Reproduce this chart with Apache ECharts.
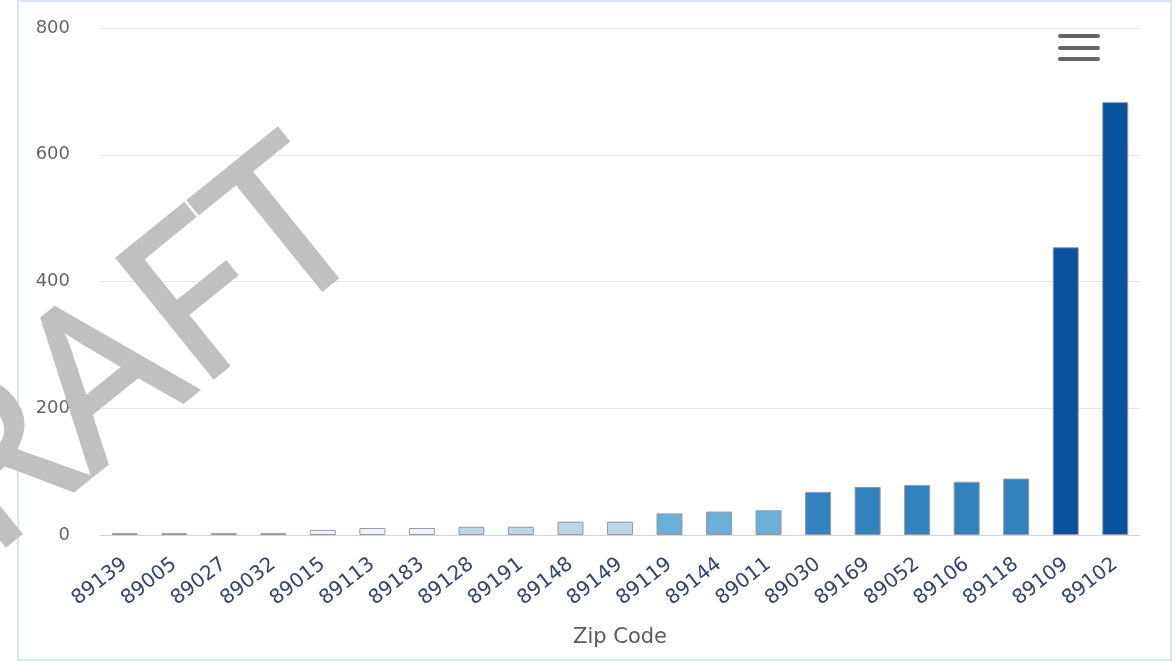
<!DOCTYPE html>
<html>
<head>
<meta charset="utf-8">
<script src="https://cdn.jsdelivr.net/npm/echarts@6/dist/echarts.min.js"></script>
<style>
  html, body { margin: 0; padding: 0; background: #ffffff; }
  #chart { width: 1176px; height: 662px; }
</style>
</head>
<body>
<div id="chart"></div>
<script>
const zipCodes = ['89139','89005','89027','89032','89015','89113','89183','89128','89191','89148','89149','89119','89144','89011','89030','89169','89052','89106','89118','89109','89102'];
const counts = [3, 3, 3, 3, 8, 11, 11, 13, 13, 21, 21, 34, 37, 39, 68, 76, 79, 84, 89, 454, 683];
const yTicks = [0, 200, 400, 600, 800];
const palette = ['#eff3ff', '#bdd7e7', '#6baed6', '#3182bd', '#08519c'];
const classBreaks = [12, 30, 50, 200];

const chart = echarts.init(document.getElementById('chart'), null, { renderer: 'canvas' });

const pieces = [
  { lt: classBreaks[0], color: palette[0] },
  { gte: classBreaks[0], lt: classBreaks[1], color: palette[1] },
  { gte: classBreaks[1], lt: classBreaks[2], color: palette[2] },
  { gte: classBreaks[2], lt: classBreaks[3], color: palette[3] },
  { gte: classBreaks[3], color: palette[4] }
];

chart.setOption({
  animation: false,
  backgroundColor: '#ffffff',
  grid: { left: 100, right: 36, top: 28, bottom: 127, containLabel: false },
  visualMap: { type: 'piecewise', show: false, dimension: 1, pieces: pieces, seriesIndex: 0 },
  xAxis: {
    type: 'category',
    data: zipCodes,
    boundaryGap: true,
    name: 'Zip Code',
    nameLocation: 'middle',
    nameGap: 92,
    nameTextStyle: { color: '#5a5a5a', fontSize: 21, fontFamily: 'DejaVu Sans' },
    axisLine: { show: true, lineStyle: { color: '#ccd6eb', width: 1 } },
    axisTick: { show: false },
    axisLabel: {
      rotate: 38,
      interval: 0,
      margin: 27,
      color: '#33456a',
      fontSize: 20,
      fontFamily: 'DejaVu Sans'
    },
    splitLine: { show: false }
  },
  yAxis: {
    type: 'value',
    min: yTicks[0],
    max: yTicks[yTicks.length - 1],
    interval: yTicks[1] - yTicks[0],
    axisLine: { show: false },
    axisTick: { show: false },
    axisLabel: { color: '#666666', fontSize: 18, fontFamily: 'DejaVu Sans', margin: 30 },
    splitLine: { show: true, lineStyle: { color: '#e6e6e6', width: 1 } }
  },
  series: [{
    type: 'bar',
    data: counts,
    barWidth: 26,
    itemStyle: { borderColor: '#9a9a9a', borderWidth: 1 }
  }],
  graphic: [
    {
      type: 'rect',
      shape: { x: 18, y: 1, width: 1153, height: 659 },
      style: { fill: 'none', stroke: '#d6e6f6', lineWidth: 2 },
      silent: true, z: 50
    },
    {
      type: 'rect', shape: { x: 1058, y: 34, width: 42, height: 4, r: 2 },
      style: { fill: '#666666' }, z: 60
    },
    {
      type: 'rect', shape: { x: 1058, y: 46, width: 42, height: 4, r: 2 },
      style: { fill: '#666666' }, z: 60
    },
    {
      type: 'rect', shape: { x: 1058, y: 57, width: 42, height: 4, r: 2 },
      style: { fill: '#666666' }, z: 60
    },
    {
      type: 'text',
      x: 337, y: 199,
      rotation: 0.68,
      silent: true,
      z: 100,
      style: {
        text: 'DRAFT',
        fill: '#c0c0c0',
        stroke: '#c0c0c0',
        lineWidth: 4,
        lineJoin: 'round',
        font: 'normal 214px "Open Sans"',
        align: 'right',
        verticalAlign: 'middle'
      }
    }
  ]
});
</script>
</body>
</html>
